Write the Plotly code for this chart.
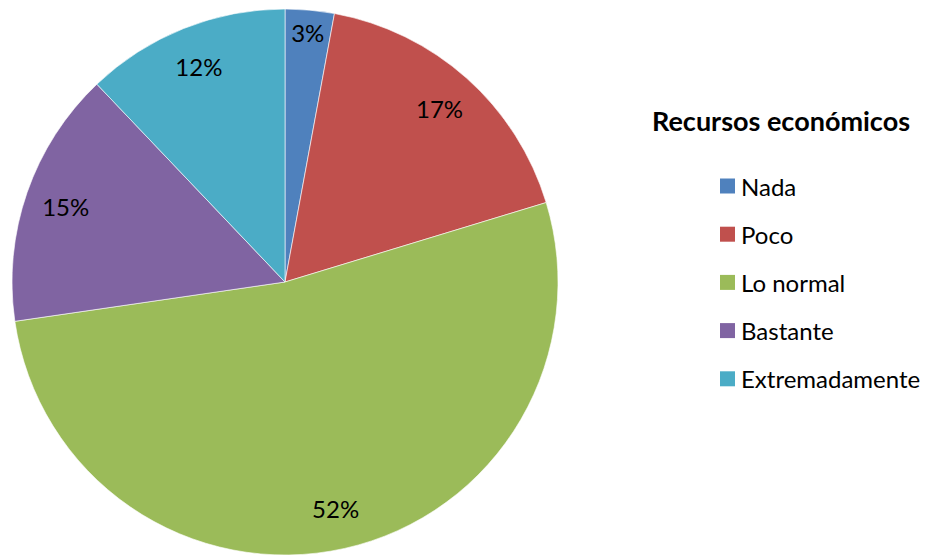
import plotly.graph_objects as go

categories = ["Nada", "Poco", "Lo normal", "Bastante", "Extremadamente"]
values = [2.9, 17.4, 52.4, 15.2, 12.1]
colors = ["#4F81BD", "#C0504D", "#9BBB59", "#8064A2", "#4BACC6"]
legend_title = "Recursos económicos"

# page body has an 8px margin; keep figure inside the window
W, H = 925, 549
OFF = 8
FONT = "Lato"

def px(x):
    return (x - OFF) / W

def py(y):
    return 1 - (y - OFF) / H

dom = dict(x=[px(12), px(558)], y=[py(555), py(9)])

fig = go.Figure()
# coloured slices
fig.add_trace(go.Pie(
    labels=categories, values=values, sort=False, direction="clockwise", rotation=0,
    marker=dict(colors=colors, line=dict(color="rgba(255,255,255,0.6)", width=1)),
    textinfo="none", showlegend=False, hoverinfo="label+percent", domain=dom,
))
# percent labels placed in an outer ring
fig.add_trace(go.Pie(
    labels=categories, values=values, sort=False, direction="clockwise", rotation=0,
    hole=0.7,
    marker=dict(colors=["rgba(0,0,0,0)"] * len(values), line=dict(width=0)),
    texttemplate="%{percent:.0%}", textposition="inside",
    insidetextorientation="horizontal",
    textfont=dict(family=FONT, size=24, color="black"),
    showlegend=False, hoverinfo="skip", domain=dom,
))

annotations = [dict(
    text="<b>" + legend_title + "</b>", x=px(650), y=py(121),
    xref="paper", yref="paper", xanchor="left", yanchor="middle",
    showarrow=False, font=dict(family=FONT, size=27, color="black"),
)]
shapes = []
y0, dy = 186, 48.2
for i, (c, col) in enumerate(zip(categories, colors)):
    yc = y0 + i * dy
    shapes.append(dict(type="rect", xref="paper", yref="paper",
                       x0=px(720), x1=px(735), y0=py(yc + 7.5), y1=py(yc - 7.5),
                       fillcolor=col, line=dict(width=0)))
    annotations.append(dict(text=c, x=px(739), y=py(yc), xref="paper", yref="paper",
                            xanchor="left", yanchor="middle", showarrow=False,
                            font=dict(family=FONT, size=24, color="black")))

fig.update_layout(
    width=W, height=H,
    margin=dict(l=0, r=0, t=0, b=0),
    paper_bgcolor="white", plot_bgcolor="white",
    annotations=annotations, shapes=shapes,
)
fig.write_html("out.html")
